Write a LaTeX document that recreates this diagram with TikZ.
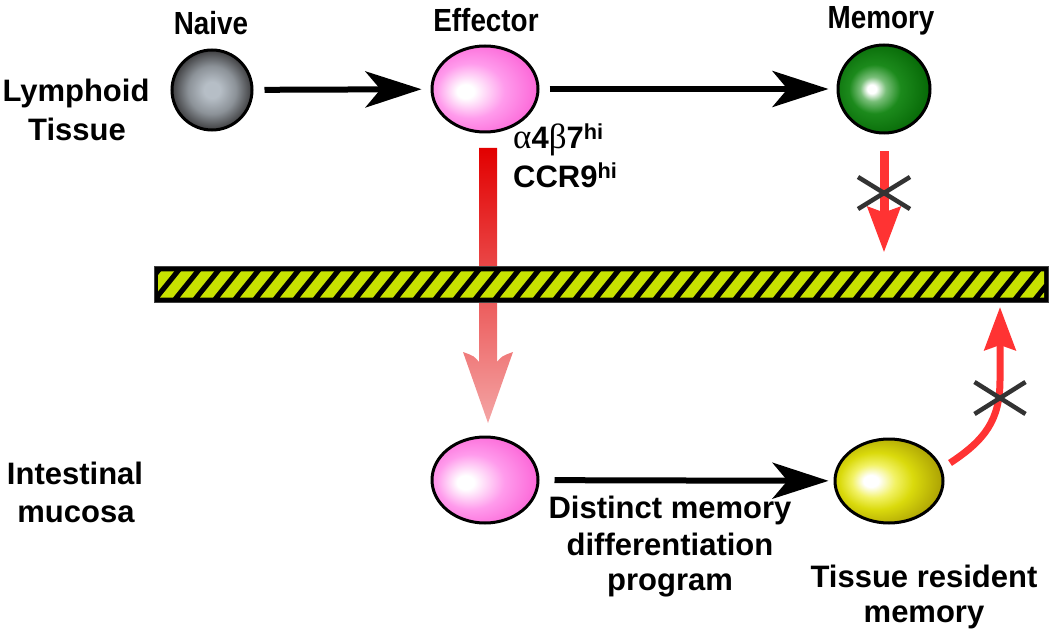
\documentclass[tikz,border=0pt]{standalone}
\usepackage{fontspec}
\setmainfont{Liberation Sans}
\newfontfamily\narrowfont[FakeStretch=0.87]{Liberation Sans}
\newfontfamily\grk{Liberation Serif}
\usetikzlibrary{arrows.meta,shapes.geometric,calc}

\definecolor{stripe}{RGB}{200,226,0}
\definecolor{xgray}{RGB}{51,51,51}
\definecolor{redL}{RGB}{255,51,51}
\definecolor{redTop}{RGB}{226,0,0}
\definecolor{redMid}{RGB}{230,45,45}
\definecolor{redBot}{RGB}{244,165,165}
% cell colours
\definecolor{gCen}{RGB}{182,190,198}
\definecolor{gMid}{RGB}{140,146,152}
\definecolor{gEdge}{RGB}{62,62,64}
\definecolor{pMid}{RGB}{255,155,236}
\definecolor{pEdge}{RGB}{250,75,205}
\definecolor{grLight}{RGB}{120,190,120}
\definecolor{grMid}{RGB}{28,138,28}
\definecolor{grEdge}{RGB}{0,95,0}
\definecolor{yLight}{RGB}{242,242,100}
\definecolor{yMid}{RGB}{218,218,12}
\definecolor{yEdge}{RGB}{150,135,0}

% TikZ maps the central 50bp square of a shading onto the path: the rim is at 25bp
\pgfdeclareradialshading{graycell}{\pgfpoint{0bp}{0bp}}{color(0bp)=(gCen); color(5bp)=(gCen); color(15bp)=(gMid); color(25bp)=(gEdge); color(50bp)=(gEdge)}
\pgfdeclareradialshading{pinkcell}{\pgfpoint{-10bp}{-1.5bp}}{color(0bp)=(white); color(4bp)=(white); color(16bp)=(pMid); color(36bp)=(pEdge); color(50bp)=(pEdge)}
\pgfdeclareradialshading{greencell}{\pgfpoint{-7bp}{0bp}}{color(0bp)=(white); color(2.5bp)=(white); color(7bp)=(grLight); color(14bp)=(grMid); color(32bp)=(grEdge); color(50bp)=(grEdge)}
\pgfdeclareradialshading{yellowcell}{\pgfpoint{-9bp}{0bp}}{color(0bp)=(white); color(3.5bp)=(white); color(10bp)=(yLight); color(17bp)=(yMid); color(34bp)=(yEdge); color(50bp)=(yEdge)}

\tikzset{
  cell/.style={ellipse, draw=black, line width=3pt, inner sep=0pt},
  lbl/.style={inner sep=0pt, font=\fontsize{31}{37}\selectfont\bfseries},
  head/.style={inner sep=0pt, font=\narrowfont\fontsize{32}{38}\selectfont\bfseries},
  blackarr/.style={line width=6pt, -{Stealth[length=56pt, width=36pt, inset=15pt]}},
  redarr/.style={draw=redL, line width=9pt, -{Stealth[length=45pt, width=32pt, inset=5pt]}},
  curvarr/.style={draw=redL, line width=7pt, -{Stealth[length=43pt, width=31pt, inset=5pt]}},
  xmark/.style={draw=xgray, line width=4.5pt},
}

\begin{document}
\begin{tikzpicture}[x=1pt, y=-1pt]
\useasboundingbox (0,0) rectangle (1050,631);

% cells
\node[cell, shading=graycell, minimum width=80pt, minimum height=80pt] (naive) at (212,90) {};
\node[cell, shading=pinkcell, minimum width=106pt, minimum height=86pt] (eff) at (485,89) {};
\node[cell, shading=greencell, minimum width=92pt, minimum height=88pt] (mem) at (884,89) {};
\node[cell, shading=pinkcell, minimum width=106pt, minimum height=86pt] (ie) at (485,480) {};
\node[cell, shading=yellowcell, minimum width=108pt, minimum height=84pt] (trm) at (889,481) {};

% black arrows
\draw[blackarr, shorten <=11pt, shorten >=9pt] (naive) -- (eff);
\draw[blackarr, shorten <=10pt, shorten >=8pt] (eff) -- (mem);
\draw[blackarr, shorten <=15pt, shorten >=5pt] (ie) -- (trm);

% big red migration arrow (effector -> intestinal effector)
\coordinate (rs) at (488,148);
\coordinate (rt) at (488,423);
\shade[top color=redTop, middle color=redMid, bottom color=redBot]
  ($(rs)+(-9,0)$) -- ($(rt)+(-9,-61)$) .. controls ($(rt)+(-14,-67)$) .. ($(rt)+(-25,-71)$)
  -- (rt) -- ($(rt)+(25,-71)$) .. controls ($(rt)+(14,-67)$) .. ($(rt)+(9,-61)$)
  -- ($(rs)+(9,0)$) -- cycle;

% barrier
\node[draw=black!75, fill=black, line width=1pt, minimum width=894pt, minimum height=35pt, inner sep=0pt] (bar) at (601,284.5) {};
\begin{scope}
  \clip (158,271.5) rectangle (1044,297.5);
  \foreach \i in {0,...,46}
    \fill[stripe] ({140+\i*20},297.5) -- ++(13,0) -- ++(21,-26) -- ++(-13,0) -- cycle;
\end{scope}

% memory does not enter the tissue
\draw[redarr, shorten <=17pt, shorten >=14pt] (mem.south) -- (mem.south |- bar.north);
\draw[xmark] (858,177) -- (910,209) (858,209) -- (910,177);

% tissue resident memory does not leave
\coordinate (cs) at (950,463);
\coordinate (ce) at (1000,307);
\draw[curvarr] (cs) .. controls (985,440) and (1000,420) .. (1000,380) -- (ce);
\draw[xmark] (974.5,382) -- (1025.5,414) (974.5,414) -- (1025.5,382);

% headings
\node[head, anchor=base] (tn) at (211,35) {Naive};
\node[head, anchor=base] (te) at (486,32) {Effector};
\node[head, anchor=base] (tm) at (881,29) {Memory};

% side labels
\node[lbl, anchor=base] (l1) at (76,102) {Lymphoid};
\node[lbl, anchor=base] (l2) at (77,141) {Tissue};
\node[lbl, anchor=base] (l3) at (75,484) {Intestinal};
\node[lbl, anchor=base] (l4) at (76,522) {mucosa};

% integrin / chemokine receptor
\node[lbl, anchor=base west] (a1) at (513,149) {{\grk\mdseries\fontsize{35}{37}\selectfont α}4{\grk\mdseries\fontsize{35}{37}\selectfont β}7\textsuperscript{hi}};
\node[lbl, anchor=base west] (a2) at (513,188) {CCR9\textsuperscript{hi}};

% differentiation program
\node[lbl, anchor=base] (d1) at (670,518) {Distinct memory};
\node[lbl, anchor=base] (d2) at (670,555) {differentiation};
\node[lbl, anchor=base] (d3) at (670,590) {program};

% tissue resident memory
\node[lbl, anchor=base] (r1) at (924,587) {Tissue resident};
\node[lbl, anchor=base] (r2) at (924,622) {memory};
\end{tikzpicture}
\end{document}
